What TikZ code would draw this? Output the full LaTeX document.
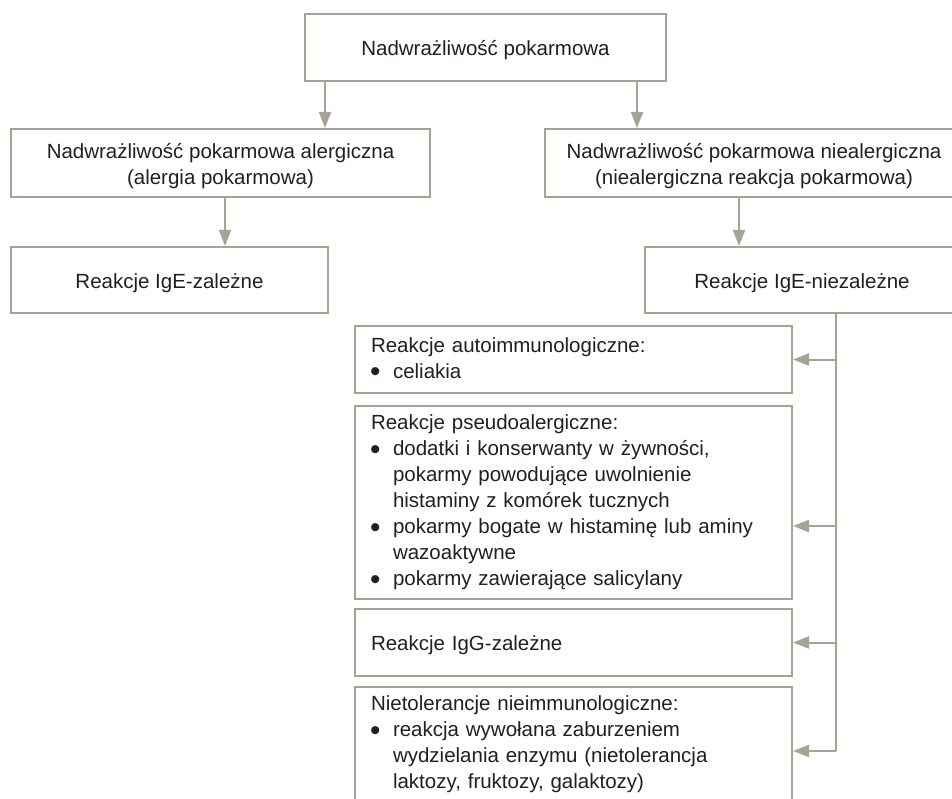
\documentclass[tikz,border=0pt]{standalone}
\usepackage{fontspec}
\usepackage{graphicx}
\setmainfont{Liberation Sans}
\usetikzlibrary{arrows.meta}
\definecolor{lineC}{RGB}{166,162,148}
\definecolor{txtC}{RGB}{35,31,32}
\tikzset{
  box/.style={draw=lineC, line width=2pt, inner sep=0pt, align=center, text=txtC,
    font=\fontsize{20.5}{26}\selectfont},
  lbox/.style={draw=lineC, line width=2pt, inner xsep=16pt, inner ysep=0pt, anchor=center,
    text width=405pt, align=left, text=txtC, font=\fontsize{20.5}{26}\selectfont},
  arr/.style={draw=lineC, line width=2pt, -{Triangle[length=16pt,width=12pt]}},
  conn/.style={draw=lineC, line width=2pt}
}
\newcommand{\bitem}{\makebox[22pt][l]{\hspace*{-1pt}\raisebox{-3.8pt}{\scalebox{1.45}{\textbullet}}}}
\newcommand{\bcont}{\hspace*{22pt}}
\newcommand{\lowline}[1]{\raisebox{-3pt}[\height][\depth]{#1}}
\newcommand{\lowtwo}[2]{\raisebox{-3pt}[\height][\depth]{\begin{tabular}{@{}c@{}}#1\\#2\end{tabular}}}
\begin{document}
\begin{tikzpicture}[x=1pt,y=-1pt]
\clip (0,0) rectangle (952,799);
\fill[white] (0,0) rectangle (952,799);
\node[box, minimum width=361pt, minimum height=67pt] (top) at (485.5,47.5) {\lowline{Nadwrażliwość pokarmowa}};
\node[box, minimum width=419pt, minimum height=68pt] (la) at (220.5,163) {\lowtwo{Nadwrażliwość pokarmowa alergiczna}{(alergia pokarmowa)}};
\node[box, minimum width=418pt, minimum height=68pt] (ra) at (754,163) {\lowtwo{Nadwrażliwość pokarmowa niealergiczna}{(niealergiczna reakcja pokarmowa)}};
\node[box, minimum width=317pt, minimum height=66pt] (lb) at (169.5,280) {\lowline{Reakcje IgE-zależne}};
\node[box, minimum width=314pt, minimum height=66pt] (rb) at (802,280) {\lowline{Reakcje IgE-niezależne}};
\node[lbox, minimum height=67pt] (b1) at (573.5,359.5) {Reakcje autoimmunologiczne:\\\bitem celiakia};
\node[lbox, minimum height=193pt] (b2) at (573.5,502.5) {Reakcje pseudoalergiczne:\\
\bitem dodatki i konserwanty w żywności,\\
\bcont pokarmy powodujące uwolnienie\\
\bcont histaminy z komórek tucznych\\
\bitem pokarmy bogate w histaminę lub aminy\\
\bcont wazoaktywne\\
\bitem pokarmy zawierające salicylany};
\node[lbox, minimum height=67pt] (b3) at (573.5,642.5) {\lowline{Reakcje IgG-zależne}};
\node[lbox, minimum height=115pt] (b4) at (573.5,744.5) {Nietolerancje nieimmunologiczne:\\
\bitem reakcja wywołana zaburzeniem\\
\bcont wydzielania enzymu (nietolerancja\\
\bcont laktozy, fruktozy, galaktozy)};
\coordinate (x1) at (325,0);
\coordinate (x2) at (637,0);
\coordinate (x3) at (225,0);
\coordinate (x4) at (739,0);
\coordinate (tx) at (836,0);
\coordinate (t1) at (836,359.5);
\coordinate (t2) at (836,526);
\coordinate (t3) at (836,642.5);
\coordinate (t4) at (836,751);
\draw[arr] (top.south -| x1) -- (la.north -| x1);
\draw[arr] (top.south -| x2) -- (ra.north -| x2);
\draw[arr] (la.south -| x3) -- (lb.north -| x3);
\draw[arr] (ra.south -| x4) -- (rb.north -| x4);
\draw[conn] (rb.south -| tx) -- (t4);
\draw[arr] (t1) -- (t1 -| b1.east);
\draw[arr] (t2) -- (t2 -| b2.east);
\draw[arr] (t3) -- (t3 -| b3.east);
\draw[arr] (t4) -- (t4 -| b4.east);
\end{tikzpicture}
\end{document}
